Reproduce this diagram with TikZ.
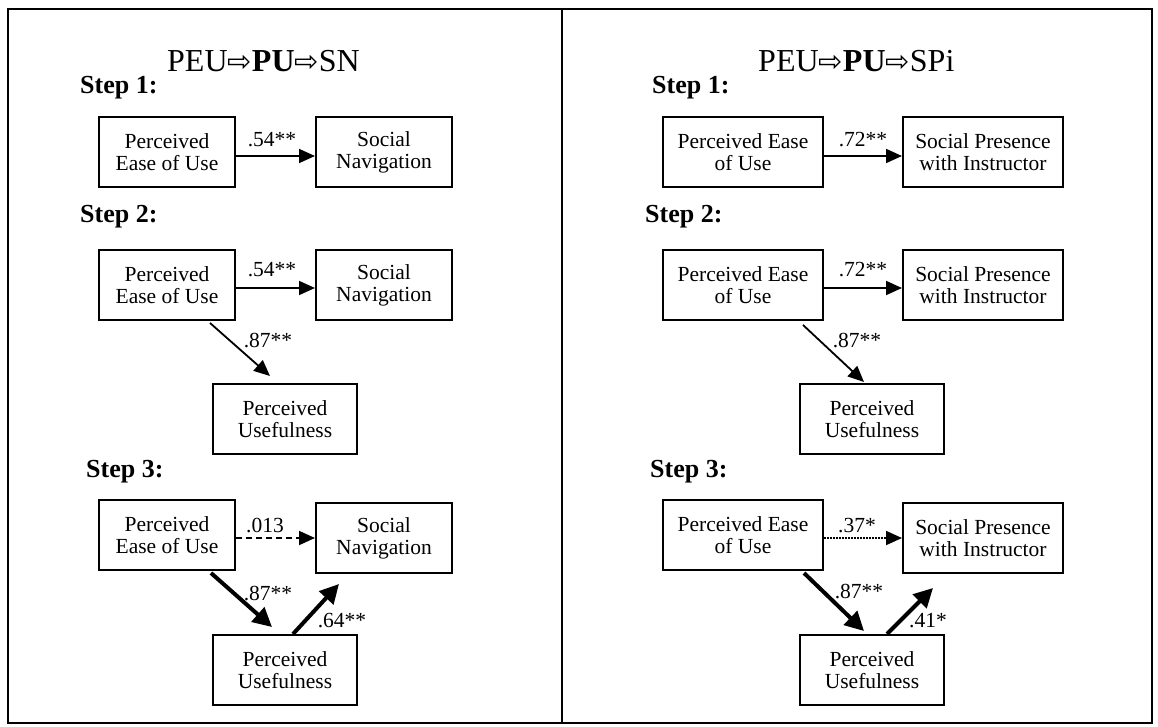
\documentclass[tikz,border=0pt]{standalone}
\usepackage{fontspec}
\setmainfont{Liberation Serif}
\newfontfamily\arrowfont{DejaVu Sans}
\usetikzlibrary{arrows.meta, calc}

\newcommand{\medarrow}{{\arrowfont\fontsize{29}{34}\selectfont ⇨}}

\begin{document}
\begin{tikzpicture}[x=1pt, y=-1pt,
    box/.style={rectangle, draw=black, line width=2pt, minimum width=136pt, minimum height=70pt, inner sep=0pt, align=center, font=\fontsize{21.5}{22}\selectfont},
    widebox/.style={box, minimum width=160pt},
    pubox/.style={box, minimum width=144pt},
    steplabel/.style={anchor=base west, inner sep=0pt, font=\fontsize{26}{30}\selectfont\bfseries},
    heading/.style={anchor=base west, inner sep=0pt, font=\fontsize{32}{36}\selectfont},
    coef/.style={anchor=base, inner sep=0pt, font=\fontsize{21.5}{22}\selectfont},
    arrow/.style={line width=1.8pt, -{Triangle[length=16pt,width=14pt]}},
    boldarrow/.style={line width=4pt, -{Triangle[length=19pt,width=19pt]}}
]
\useasboundingbox (0,0) rectangle (1158,727);
\draw[line width=2.5pt] (8,9) rectangle (1152,723);
\draw[line width=2pt] (562,9) -- (562,723);

% left panel: PEU -> PU -> SN
\node[heading] (titleL) at (167,72) {PEU\medarrow\textbf{PU}\medarrow SN};
\node[steplabel] (stepL1) at (80,94) {Step 1:};
\node[steplabel] (stepL2) at (80,223) {Step 2:};
\node[steplabel] (stepL3) at (86,477) {Step 3:};

\node[box] (peu1) at (167,152) {Perceived\\Ease of Use};
\node[box] (sn1) at (384,152) {Social\\Navigation};
\draw[arrow] ($(peu1.east)+(0,4)$) -- ($(sn1.west)+(0,4)$);
\node[coef] (c1) at (272,147) {.54**};

\node[box] (peu2) at (167,285) {Perceived\\Ease of Use};
\node[box] (sn2) at (384,285) {Social\\Navigation};
\node[pubox] (pu2) at (285,419) {Perceived\\Usefulness};
\draw[arrow] ($(peu2.east)+(0,3)$) -- ($(sn2.west)+(0,3)$);
\draw[arrow] ($(peu2.south east)+(-26,2)$) -- ($(pu2.north)+(-15,-7)$);
\node[coef] (c2) at (272,276) {.54**};
\node[coef] (c3) at (268,347) {.87**};

\node[box] (peu3) at (167,535) {Perceived\\Ease of Use};
\node[box] (sn3) at (384,538) {Social\\Navigation};
\node[pubox] (pu3) at (285,670) {Perceived\\Usefulness};
\draw[arrow, dash pattern=on 6pt off 4pt] ($(peu3.east)+(0,3)$) -- (sn3.west);
\draw[boldarrow] ($(peu3.south east)+(-25,2)$) -- ($(pu3.north)+(-13,-7)$);
\draw[boldarrow] ($(pu3.north)+(8,0)$) -- ($(sn3.south)+(-45,10)$);
\node[coef] (c4) at (265,532) {.013};
\node[coef] (c5) at (268,600) {.87**};
\node[coef] (c6) at (342,627) {.64**};

% right panel: PEU -> PU -> SPi
\node[heading] (titleR) at (758,72) {PEU\medarrow\textbf{PU}\medarrow SPi};
\node[steplabel] (stepR1) at (652,94) {Step 1:};
\node[steplabel] (stepR2) at (645,223) {Step 2:};
\node[steplabel] (stepR3) at (650,477) {Step 3:};

\node[widebox] (rpeu1) at (743,152) {Perceived Ease\\of Use};
\node[widebox] (spi1) at (983,152) {Social Presence\\with Instructor};
\draw[arrow] ($(rpeu1.east)+(0,4)$) -- ($(spi1.west)+(0,4)$);
\node[coef] (d1) at (863,147) {.72**};

\node[widebox] (rpeu2) at (743,285) {Perceived Ease\\of Use};
\node[widebox] (spi2) at (983,285) {Social Presence\\with Instructor};
\node[pubox] (rpu2) at (872,419) {Perceived\\Usefulness};
\draw[arrow] ($(rpeu2.east)+(0,3)$) -- ($(spi2.west)+(0,3)$);
\draw[arrow] ($(rpeu2.south east)+(-21,4)$) -- ($(rpu2.north)+(-8,-1)$);
\node[coef] (d2) at (863,276) {.72**};
\node[coef] (d3) at (857,347) {.87**};

\node[widebox] (rpeu3) at (743,535) {Perceived Ease\\of Use};
\node[widebox] (spi3) at (983,538) {Social Presence\\with Instructor};
\node[pubox] (rpu3) at (872,670) {Perceived\\Usefulness};
\draw[arrow, dash pattern=on 1.5pt off 1.5pt] ($(rpeu3.east)+(0,3)$) -- (spi3.west);
\draw[boldarrow] ($(rpeu3.south east)+(-20,2)$) -- ($(rpu3.north)+(-8,-3)$);
\draw[boldarrow] ($(rpu3.north)+(15,0)$) -- ($(spi3.south)+(-50,14)$);
\node[coef] (d4) at (857,532) {.37*};
\node[coef] (d5) at (859,598) {.87**};
\node[coef] (d6) at (928,627) {.41*};
\end{tikzpicture}
\end{document}
